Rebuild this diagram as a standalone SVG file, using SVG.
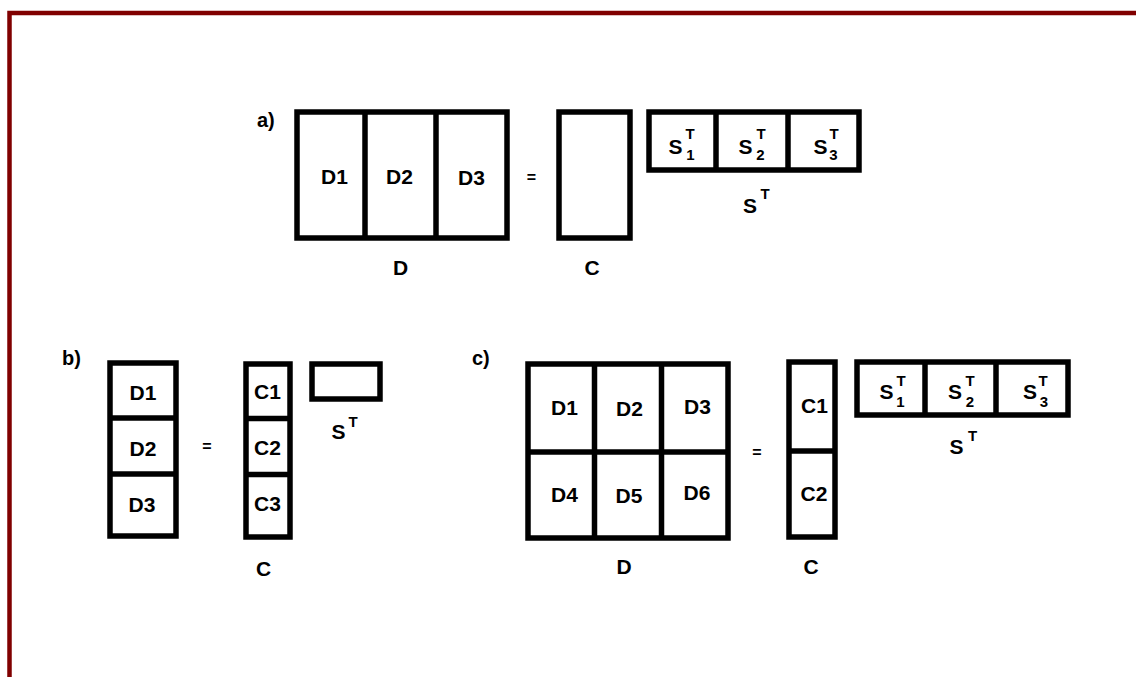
<svg xmlns="http://www.w3.org/2000/svg" width="1136" height="677" viewBox="0 0 1136 677">
<style>
.box{fill:#fff;stroke:#000;stroke-width:5.5}
.div{stroke:#000;stroke-width:5.5}
text{font-family:"Liberation Sans",Arial,sans-serif;font-weight:bold;fill:#000}
.t{font-size:21px;text-anchor:middle}
.s{font-size:15px;text-anchor:middle}
.eq{font-size:16px;text-anchor:middle}
.lab{font-size:20px}
</style>
<rect x="0" y="0" width="1136" height="677" fill="#fff"/>
<rect x="9.5" y="13" width="1200" height="700" fill="none" stroke="#800000" stroke-width="4.5"/>

<!-- a) -->
<text class="lab" x="257" y="127">a)</text>
<g id="a-D">
<rect class="box" x="297" y="112" width="210" height="126"/>
<line class="div" x1="365" y1="112" x2="365" y2="238"/>
<line class="div" x1="436" y1="112" x2="436" y2="238"/>
<text class="t" x="334.5" y="183.5">D1</text>
<text class="t" x="399.5" y="183.5">D2</text>
<text class="t" x="471.5" y="184.5">D3</text>
<text class="t" x="400.5" y="275">D</text>
</g>
<text class="eq" x="531.5" y="183">=</text>
<g id="a-C">
<rect class="box" x="559" y="112" width="71" height="126"/>
<text class="t" x="592" y="274.5">C</text>
</g>
<g id="a-ST">
<rect class="box" x="649" y="112" width="210" height="58"/>
<line class="div" x1="716" y1="112" x2="716" y2="170"/>
<line class="div" x1="788" y1="112" x2="788" y2="170"/>
<text class="t" x="675.5" y="154">S</text><text class="s" x="690" y="138.5">T</text><text class="s" x="690.5" y="160">1</text>
<text class="t" x="745.5" y="154">S</text><text class="s" x="761" y="138.5">T</text><text class="s" x="760.5" y="160">2</text>
<text class="t" x="820.5" y="154">S</text><text class="s" x="834" y="138.5">T</text><text class="s" x="833.5" y="160">3</text>
<text class="t" x="750" y="212.5">S</text><text class="s" x="765" y="198.5">T</text>
</g>

<!-- b) -->
<text class="lab" x="62" y="365">b)</text>
<g id="b-D">
<rect class="box" x="110" y="363" width="66" height="173"/>
<line class="div" x1="110" y1="418" x2="176" y2="418"/>
<line class="div" x1="110" y1="474" x2="176" y2="474"/>
<text class="t" x="143" y="399.5">D1</text>
<text class="t" x="143" y="455.5">D2</text>
<text class="t" x="142" y="511.5">D3</text>
</g>
<text class="eq" x="207" y="452">=</text>
<g id="b-C">
<rect class="box" x="246" y="364" width="44" height="173"/>
<line class="div" x1="246" y1="418.5" x2="290" y2="418.5"/>
<line class="div" x1="246" y1="474.5" x2="290" y2="474.5"/>
<text class="t" x="267.5" y="398.5">C1</text>
<text class="t" x="267.5" y="454.5">C2</text>
<text class="t" x="267.5" y="510.5">C3</text>
<text class="t" x="263.5" y="575.5">C</text>
</g>
<g id="b-ST">
<rect class="box" x="312" y="364" width="68" height="35"/>
<text class="t" x="338.5" y="438.5">S</text><text class="s" x="353" y="426.5">T</text>
</g>

<!-- c) -->
<text class="lab" x="472" y="365">c)</text>
<g id="c-D">
<rect class="box" x="528" y="364" width="200" height="174"/>
<line class="div" x1="594.5" y1="364" x2="594.5" y2="538"/>
<line class="div" x1="661.5" y1="364" x2="661.5" y2="538"/>
<line class="div" x1="528" y1="452" x2="728" y2="452"/>
<text class="t" x="564.5" y="414.5">D1</text>
<text class="t" x="629.5" y="415.5">D2</text>
<text class="t" x="697.5" y="413.5">D3</text>
<text class="t" x="564.5" y="501.5">D4</text>
<text class="t" x="629" y="502.5">D5</text>
<text class="t" x="697" y="499.5">D6</text>
<text class="t" x="624" y="573.5">D</text>
</g>
<text class="eq" x="757" y="458">=</text>
<g id="c-C">
<rect class="box" x="789" y="362" width="46" height="175"/>
<line class="div" x1="789" y1="451" x2="835" y2="451"/>
<text class="t" x="814.5" y="412.5">C1</text>
<text class="t" x="814" y="500.5">C2</text>
<text class="t" x="811" y="573.5">C</text>
</g>
<g id="c-ST">
<rect class="box" x="857" y="362" width="211" height="53"/>
<line class="div" x1="925" y1="362" x2="925" y2="415"/>
<line class="div" x1="996" y1="362" x2="996" y2="415"/>
<text class="t" x="886.5" y="398.5">S</text><text class="s" x="901" y="385.5">T</text><text class="s" x="900.5" y="407">1</text>
<text class="t" x="955" y="398.5">S</text><text class="s" x="970" y="385.5">T</text><text class="s" x="970" y="407">2</text>
<text class="t" x="1030" y="398.5">S</text><text class="s" x="1043" y="385.5">T</text><text class="s" x="1044" y="407">3</text>
<text class="t" x="956.5" y="453.5">S</text><text class="s" x="972.5" y="440.5">T</text>
</g>
<g id="connectors"/>
</svg>
